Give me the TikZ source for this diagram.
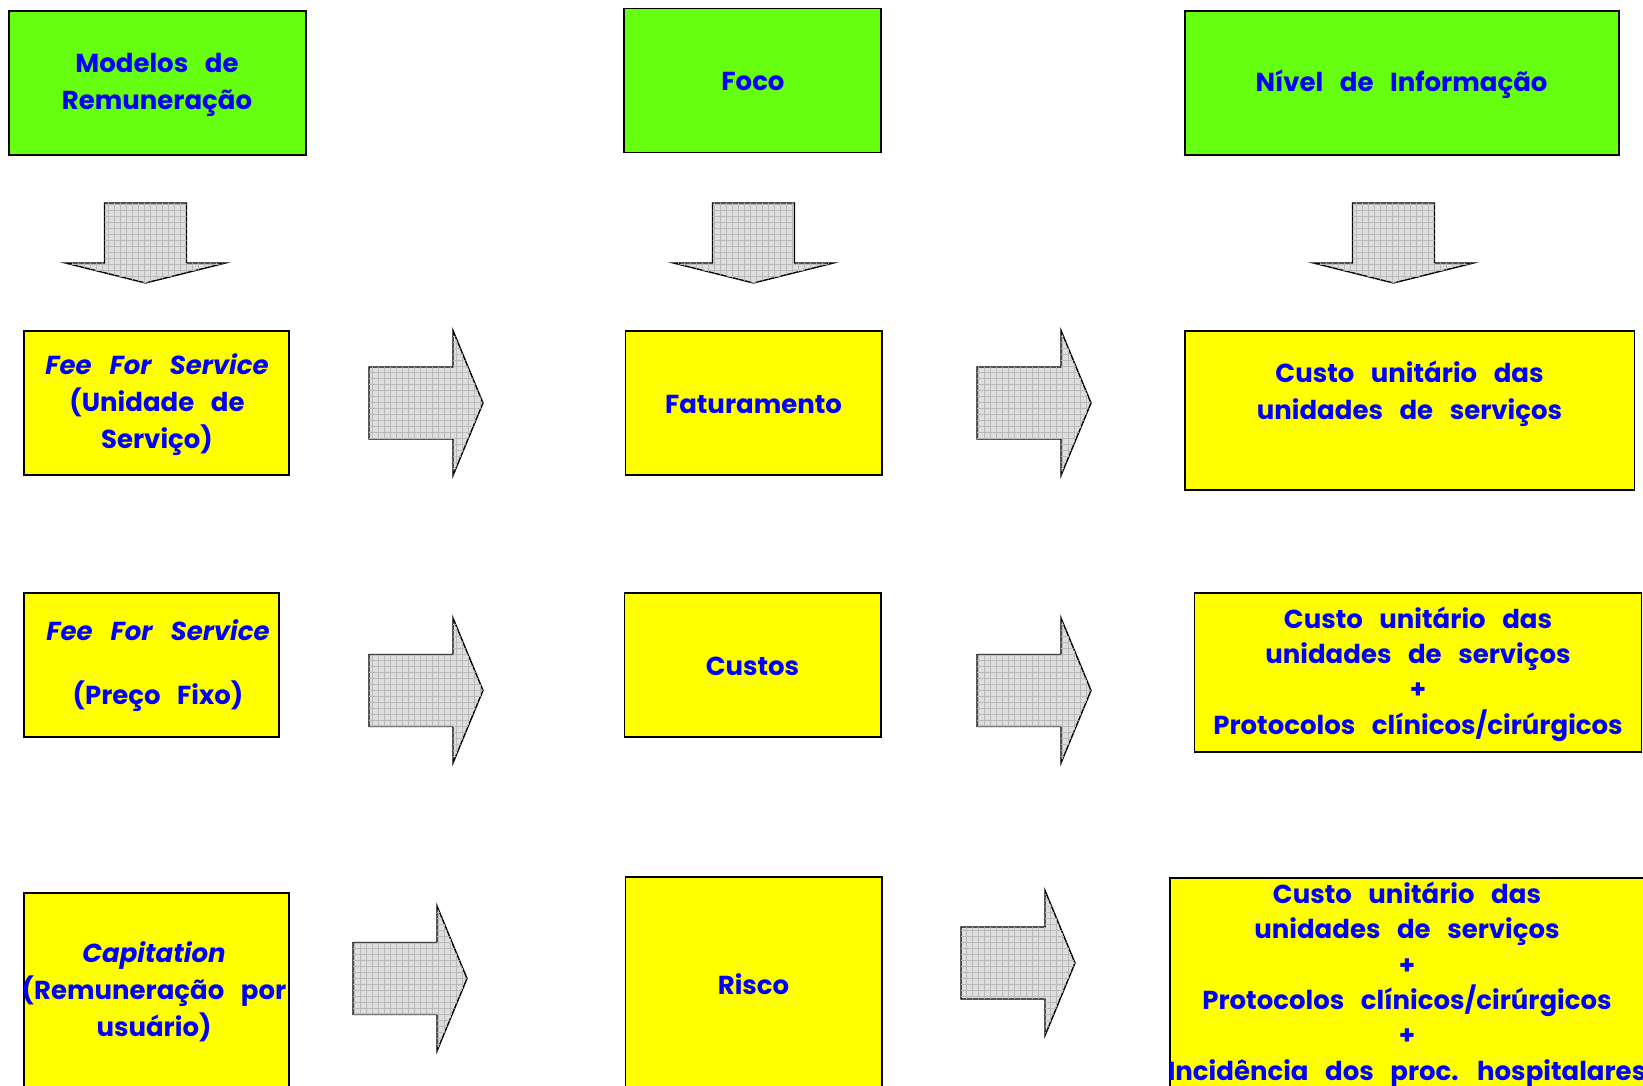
\documentclass[tikz,border=0pt]{standalone}
\usepackage{fontspec}
\setmainfont{Poppins}[WordSpace=3]
\usetikzlibrary{patterns.meta}
\definecolor{boxgreen}{RGB}{102,255,16}
\definecolor{boxyellow}{RGB}{255,255,0}
\definecolor{txtblue}{RGB}{0,0,255}
\definecolor{arrowfill}{RGB}{222,222,222}
\definecolor{arrowgrid}{RGB}{185,185,185}
\tikzset{
  box/.style={draw=black, line width=1.6pt, anchor=north west, inner sep=0pt, outer sep=0pt},
  greenbox/.style={box, fill=boxgreen},
  yellowbox/.style={box, fill=boxyellow},
  lbl/.style={text=txtblue, font=\fontsize{26}{37}\selectfont\bfseries, align=center, inner sep=0pt},
  blockarrow/.style={draw=black, line width=1.4pt, line join=miter, fill=arrowfill,
    postaction={pattern={Hatch[angle=0,distance=6pt,line width=0.4pt]}, pattern color=arrowgrid}},
  darrow/.pic={\draw[blockarrow] (-41,0) -- (41,0) -- (41,60) -- (80,60) -- (0,80) -- (-80,60) -- (-41,60) -- cycle;},
  rarrow/.pic={\draw[blockarrow] (0,-36) -- (84,-36) -- (84,-72.5) -- (114,0) -- (84,72.5) -- (84,36) -- (0,36) -- cycle;},
}
\begin{document}
\begin{tikzpicture}[x=1pt, y=-1pt]
\clip (0,0) rectangle (1643,1086);
\fill[white] (0,0) rectangle (1643,1086);
% header boxes
\node[greenbox, minimum width=297pt, minimum height=144pt] (m1) at (9,11) {};
\node[greenbox, minimum width=257pt, minimum height=144pt] (m2) at (624,8.5) {};
\node[greenbox, minimum width=434pt, minimum height=144pt] (m3) at (1185,11) {};
% row boxes
\node[yellowbox, minimum width=265pt, minimum height=144pt] (a2) at (24,331) {};
\node[yellowbox, minimum width=256.5pt, minimum height=144pt] (b2) at (625.5,331) {};
\node[yellowbox, minimum width=449.5pt, minimum height=159pt] (c2) at (1185,331) {};
\node[yellowbox, minimum width=255pt, minimum height=144pt] (a3) at (24,593) {};
\node[yellowbox, minimum width=256.5pt, minimum height=144pt] (b3) at (624.5,593) {};
\node[yellowbox, minimum width=447pt, minimum height=159pt] (c3) at (1194.5,593) {};
\node[yellowbox, minimum width=265pt, minimum height=207pt] (a4) at (24,893) {};
\node[yellowbox, minimum width=256.5pt, minimum height=223pt] (b4) at (625.5,877) {};
\node[yellowbox, minimum width=530pt, minimum height=222pt] (c4) at (1170,878) {};
% down arrows
\pic (d1) at (145.5,203) {darrow};
\pic (d2) at (753.5,203) {darrow};
\pic (d3) at (1393.5,203) {darrow};
% right arrows
\pic (r1) at (369,403) {rarrow};
\pic (r2) at (977,403) {rarrow};
\pic (r3) at (369,690.5) {rarrow};
\pic (r4) at (977,690.5) {rarrow};
\pic (r5) at (353,978.5) {rarrow};
\pic (r6) at (961,963) {rarrow};
% labels
\node[lbl] (t1) at (157,85) {Modelos de\\Remuneração};
\node[lbl] (t2) at (753,81) {Foco};
\node[lbl] (t3) at (1401.5,84) {Nível de Informação};
\node[lbl] (t4) at (157,404.5) {{\itshape Fee For Service}\\(Unidade de\\Serviço)};
\node[lbl] (t5) at (753.5,404) {Faturamento};
\node[lbl] (t6) at (1409.5,393.5) {Custo unitário das\\unidades de serviços};
\node[lbl] (t7) at (158,666) {{\itshape Fee For Service}\\[27pt](Preço Fixo)};
\node[lbl] (t8) at (752.5,666) {Custos};
\node[lbl, font=\fontsize{26}{35.3}\selectfont\bfseries] (t9) at (1418,674) {Custo unitário das\\unidades de serviços\\+\\Protocolos clínicos/cirúrgicos};
\node[lbl] (t10) at (154,992) {{\itshape Capitation}\\(Remuneração por\\usuário)};
\node[lbl] (t11) at (753.5,984) {Risco};
\node[lbl, font=\fontsize{26}{35.4}\selectfont\bfseries] (t12) at (1407,984.5) {Custo unitário das\\unidades de serviços\\+\\Protocolos clínicos/cirúrgicos\\+\\Incidência dos proc. hospitalares};
\end{tikzpicture}
\end{document}
